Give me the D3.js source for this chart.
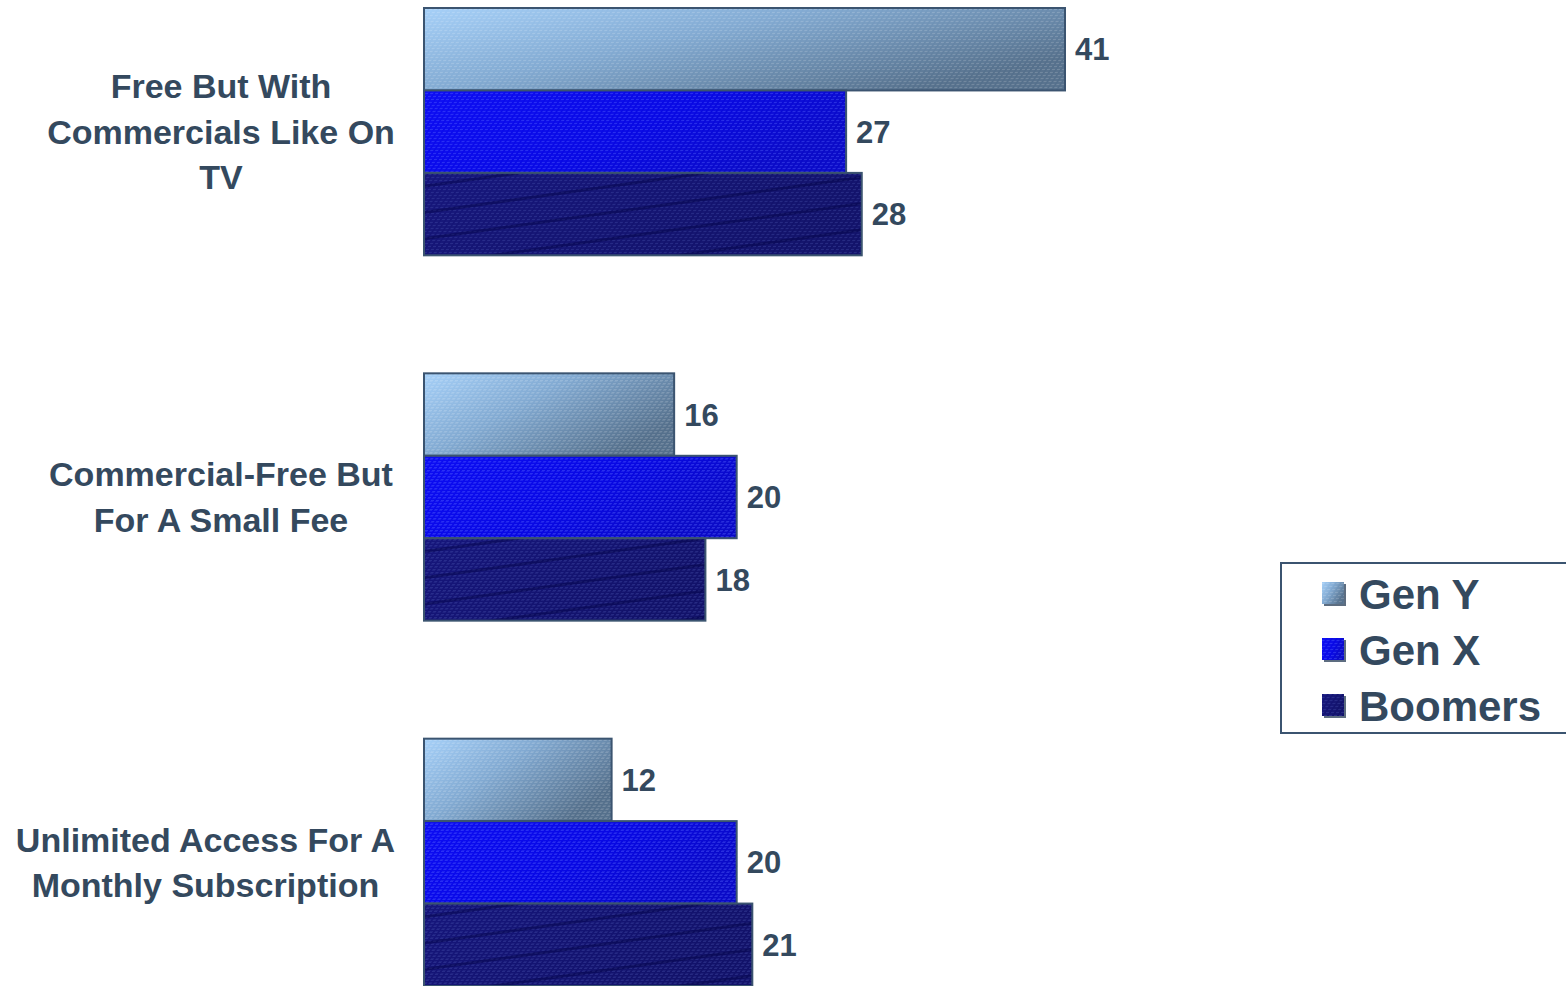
<!DOCTYPE html>
<html>
<head>
<meta charset="utf-8">
<script src="https://cdn.jsdelivr.net/npm/d3@7"></script>
<style>
  html, body { margin: 0; padding: 0; background: #ffffff; }
  svg { display: block; }
  text { font-family: "Liberation Sans", Arial, sans-serif; font-weight: 700; fill: #34495e; }
</style>
</head>
<body>
<svg id="chart" width="1566" height="986"></svg>
<script>
// Survey answers, one group of bars per option
const categories = [
  "Free But With\nCommercials Like On\nTV",
  "Commercial-Free But\nFor A Small Fee",
  "Unlimited Access For A\nMonthly Subscription"
];
const seriesNames = ["Gen Y", "Gen X", "Boomers"];
const genY    = [41, 16, 12];
const genX    = [27, 20, 20];
const boomers = [28, 18, 21];

const seriesValues = [genY, genX, boomers];
const rows = categories.map((c, i) => ({
  category: c,
  values: seriesNames.map((s, j) => ({ series: s, key: j, value: seriesValues[j][i] }))
}));

const svg = d3.select("#chart");
const defs = svg.append("defs");

// --- fills -------------------------------------------------------------
function grad(id, stops, x2, y2) {
  const g = defs.append("linearGradient").attr("id", id)
    .attr("x1", 0).attr("y1", 0).attr("x2", x2).attr("y2", y2);
  stops.forEach(s => g.append("stop").attr("offset", s[0]).attr("stop-color", s[1]));
}
grad("g0", [[0, "#a6d0f8"], [0.45, "#82aad2"], [1, "#55708c"]], 1, 0.6);
grad("g1", [[0, "#0c0cf4"], [0.6, "#0808e4"], [1, "#0a0ac8"]], 1, 0.4);
grad("g2", [[0, "#16167c"], [1, "#12126a"]], 1, 0.4);

// fine dash texture laid over every bar
function dashPattern(id, color, opacity) {
  const p = defs.append("pattern").attr("id", id)
    .attr("patternUnits", "userSpaceOnUse")
    .attr("width", 5).attr("height", 3)
    .attr("patternTransform", "skewX(-35)");
  p.append("rect").attr("x", 0).attr("y", 1).attr("width", 3).attr("height", 1)
    .attr("fill", color).attr("opacity", opacity);
}
dashPattern("p0", "#ffffff", 0.25);
dashPattern("p1", "#5a6cff", 0.55);
dashPattern("p2", "#5060b8", 0.45);

// long faint streaks on the darkest series
const streak = defs.append("pattern").attr("id", "s2")
  .attr("patternUnits", "userSpaceOnUse")
  .attr("width", 400).attr("height", 26)
  .attr("patternTransform", "rotate(-8)");
streak.append("rect").attr("x", 0).attr("y", 0).attr("width", 400).attr("height", 3)
  .attr("fill", "#000040").attr("opacity", 0.4);

const fills = ["url(#g0)", "url(#g1)", "url(#g2)"];
const overlays = [["url(#p0)"], ["url(#p1)"], ["url(#p2)", "url(#s2)"]];

// --- scales ------------------------------------------------------------
const x = d3.scaleLinear().domain([0, 41]).range([424, 1065]);
const y0 = d3.scaleBand().domain(categories).range([8, 986]).paddingInner(0.323).paddingOuter(0);
const y1 = d3.scaleBand().domain(d3.range(seriesNames.length)).range([0, y0.bandwidth()]);

// --- bars --------------------------------------------------------------
const groups = svg.append("g").selectAll("g.grp").data(rows).join("g")
  .attr("class", "grp")
  .attr("transform", d => `translate(0,${y0(d.category)})`);

const bar = groups.selectAll("g.bar").data(d => d.values).join("g").attr("class", "bar");

bar.append("rect")
  .attr("x", x(0)).attr("y", d => y1(d.key))
  .attr("width", d => x(d.value) - x(0)).attr("height", y1.bandwidth())
  .attr("fill", d => fills[d.key]);

bar.each(function(d) {
  overlays[d.key].forEach(f => {
    d3.select(this).append("rect")
      .attr("x", x(0)).attr("y", y1(d.key))
      .attr("width", x(d.value) - x(0)).attr("height", y1.bandwidth())
      .attr("fill", f);
  });
});

bar.append("rect")
  .attr("x", x(0)).attr("y", d => y1(d.key))
  .attr("width", d => x(d.value) - x(0)).attr("height", y1.bandwidth())
  .attr("fill", "none").attr("stroke", "#3b5470").attr("stroke-width", 2);

// value labels
bar.append("text")
  .attr("x", d => x(d.value) + 10)
  .attr("y", d => y1(d.key) + y1.bandwidth() / 2)
  .attr("dy", "0.36em")
  .attr("font-size", 31)
  .text(d => d.value);

// --- category labels ---------------------------------------------------
// centred in the margin, but pushed left if a line would run past maxRight
const lineH = 45.5, labelCx = 221, maxRight = 395;
svg.append("g").selectAll("text").data(categories).join("text")
  .attr("text-anchor", "middle")
  .attr("font-size", 34)
  .each(function(c) {
    const lines = c.split("\n");
    const cy = y0(c) + y0.bandwidth() / 2;
    const t = d3.select(this);
    const spans = lines.map((ln, i) =>
      t.append("tspan")
        .attr("x", labelCx)
        .attr("y", cy + (i - (lines.length - 1) / 2) * lineH)
        .attr("dy", "0.36em")
        .text(ln));
    const widest = d3.max(spans, s => s.node().getComputedTextLength());
    const shift = Math.min(0, maxRight - (labelCx + widest / 2));
    spans.forEach(s => s.attr("x", labelCx + shift));
  });

// --- legend ------------------------------------------------------------
const legend = svg.append("g");
legend.append("rect")
  .attr("x", 1281).attr("y", 563).attr("width", 320).attr("height", 170)
  .attr("fill", "#ffffff").attr("stroke", "#3b5470").attr("stroke-width", 2);

const ly = d3.scalePoint().domain(d3.range(seriesNames.length)).range([594, 706]);
const item = legend.selectAll("g.item").data(seriesNames).join("g").attr("class", "item");
item.append("rect")
  .attr("x", 1324).attr("y", (d, i) => ly(i) - 10).attr("width", 22).attr("height", 22)
  .attr("fill", "#5d6d80");
item.append("rect")
  .attr("x", 1322).attr("y", (d, i) => ly(i) - 12).attr("width", 22).attr("height", 22)
  .attr("fill", (d, i) => fills[i]);
item.append("rect")
  .attr("x", 1322).attr("y", (d, i) => ly(i) - 12).attr("width", 22).attr("height", 22)
  .attr("fill", (d, i) => overlays[i][0]);
item.append("text")
  .attr("x", 1359).attr("y", (d, i) => ly(i))
  .attr("dy", "0.36em")
  .attr("font-size", 42)
  .text(d => d);
</script>
</body>
</html>
